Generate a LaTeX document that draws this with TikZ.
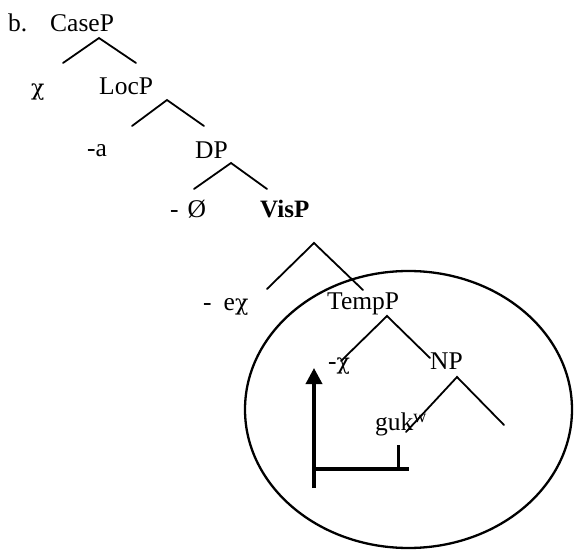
\documentclass[tikz,border=0pt]{standalone}
\usepackage{fontspec}
\setmainfont{Liberation Serif}
\newfontfamily\chifont{DejaVu Serif}
\usetikzlibrary{arrows.meta}
\newcommand{\mychi}{{\chifont\fontsize{22}{22}\selectfont χ}}
\begin{document}
\begin{tikzpicture}[x=1pt,y=-1pt,
  lbl/.style={anchor=base west,inner sep=0pt,font=\fontsize{25.5}{25.5}\selectfont},
  br/.style={line width=1.8pt,line cap=round},
  thick line/.style={line width=3.5pt}]
\useasboundingbox (0,0) rectangle (574,551);
% labels
\node[lbl] (b) at (8,32) {b.};
\node[lbl] (caseP) at (50,32) {CaseP};
\node[lbl] (chi) at (31,96) {\mychi};
\node[lbl] (locP) at (99,95) {LocP};
\node[lbl] (a) at (87,157) {-a};
\node[lbl] (dP) at (195,158) {DP};
\node[lbl] (zero) at (170,217) {-\hspace{9pt}Ø};
\node[lbl,font=\fontsize{25}{25}\selectfont\bfseries] (visP) at (260,218) {VisP};
\node[lbl] (echi) at (203,310) {-\hspace{12pt}e\mychi};
\node[lbl] (tempP) at (327,309) {TempP};
\node[lbl] (tchi) at (328,369) {-\mychi};
\node[lbl] (nP) at (430,369) {NP};
\node[lbl] (guk) at (375,430) {guk\raisebox{8pt}{\fontsize{18}{18}\selectfont w}};
% branch coordinates
\coordinate (c0) at (99,38);  \coordinate (c1) at (63,63);  \coordinate (c2) at (136,63);
\coordinate (l0) at (167,100); \coordinate (l1) at (132,126); \coordinate (l2) at (204,126);
\coordinate (d0) at (231,163); \coordinate (d1) at (194,189); \coordinate (d2) at (267,189);
\coordinate (v0) at (314,243); \coordinate (v1) at (267,289); \coordinate (v2) at (363,290);
\coordinate (t0) at (387,316); \coordinate (t1) at (341,361); \coordinate (t2) at (430,358);
\coordinate (n0) at (457,377); \coordinate (n1) at (406,432); \coordinate (n2) at (504,425);
\draw[br] (c1) -- (c0) -- (c2);
\draw[br] (l1) -- (l0) -- (l2);
\draw[br] (d1) -- (d0) -- (d2);
\draw[br] (v1) -- (v0) -- (v2);
\draw[br] (t1) -- (t0) -- (t2);
\draw[br] (n1) -- (n0) -- (n2);
% ellipse
\draw[line width=2.3pt] (408.5,409.5) ellipse [x radius=163.5, y radius=138.5];
% arrow and bracket
\coordinate (ab) at (314,488);
\coordinate (at) at (314,368);
\coordinate (hl) at (314,469);
\coordinate (hr) at (409,469);
\coordinate (tk) at (398,445);
\coordinate (tb) at (398,469);
\draw[thick line,-{Triangle[length=16pt,width=16pt]}] (ab) -- (at);
\draw[thick line] (hl) -- (hr);
\draw[line width=3pt] (tb) -- (tk);
\end{tikzpicture}
\end{document}
